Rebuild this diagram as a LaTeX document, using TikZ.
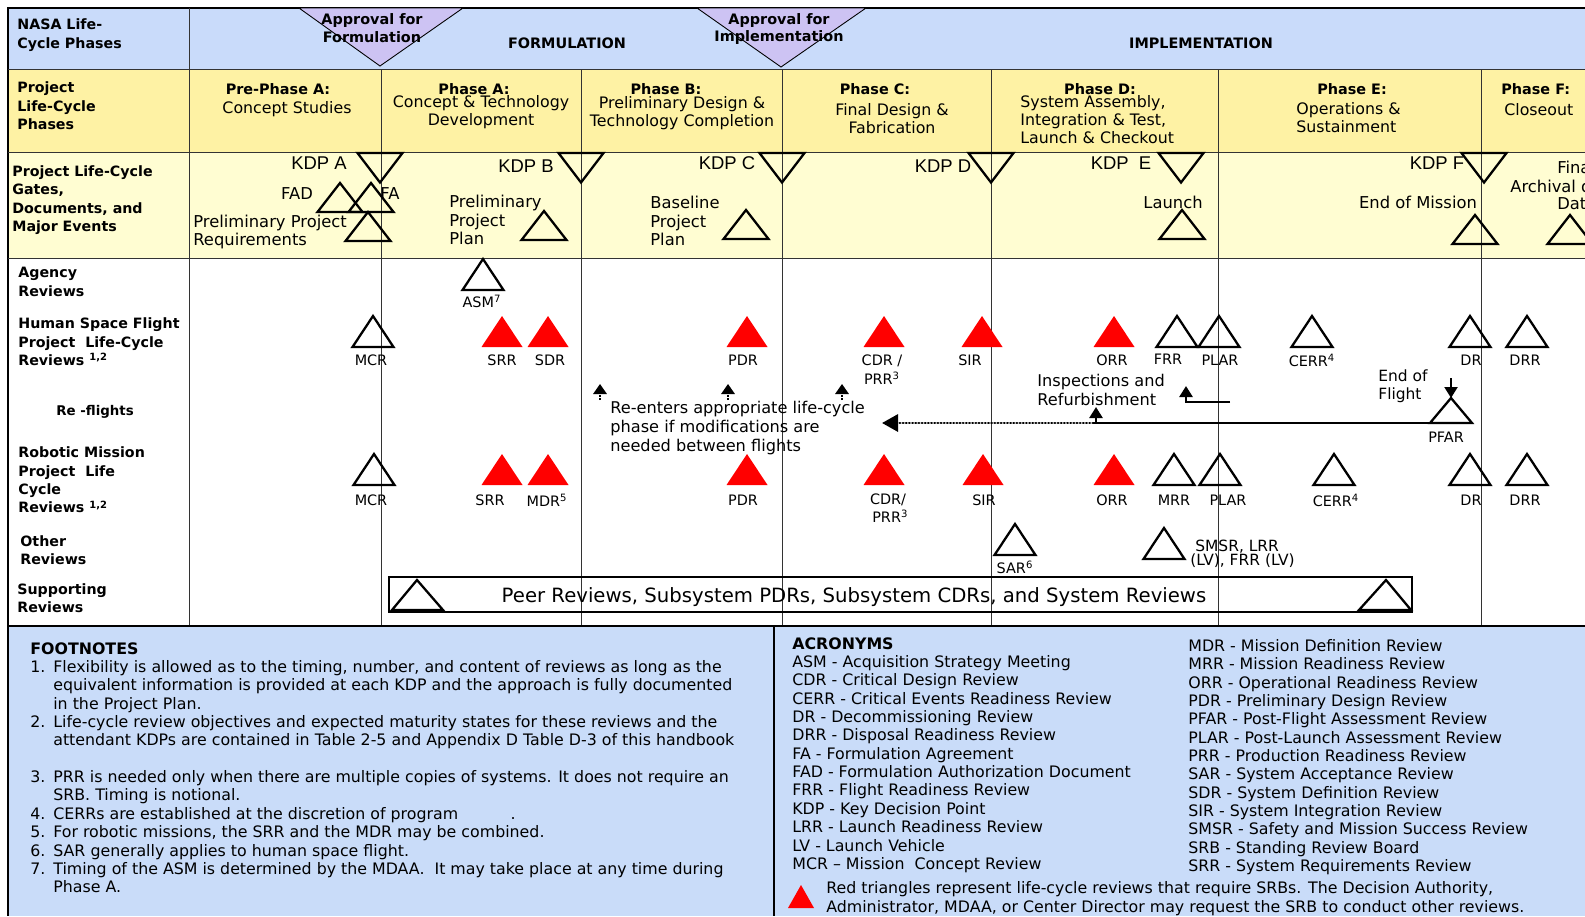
\documentclass[tikz,border=0pt]{standalone}
\usepackage{fontspec}
\setmainfont{DejaVu Sans}
\newfontfamily\kdpfont{Liberation Sans}
\usetikzlibrary{arrows.meta}

\definecolor{bandblue}{HTML}{C9DBFA}
\definecolor{phaseyellow}{HTML}{FEF2A4}
\definecolor{gateyellow}{HTML}{FFFDD2}
\definecolor{approval}{HTML}{CDC3F3}
\definecolor{noteblue}{HTML}{C9DCF9}

\newcommand{\revtri}[3][]{\draw[tri,#1] (#2,#3) -- ++(20.5,31) -- ++(-41,0) -- cycle;}
\newcommand{\doctri}[2]{\draw[tri] (#1,#2) -- ++(22.5,29) -- ++(-45,0) -- cycle;}
\newcommand{\kdptri}[2]{\draw[tri] (#1-22.5,#2) -- ++(45,0) -- ++(-22.5,29.5) -- cycle;}
\newcommand{\fnum}[1]{\makebox[0.46cm][l]{#1}}
\newcommand{\fcont}{\hspace*{0.46cm}}

\begin{document}
\begin{tikzpicture}[
 x=0.02cm, y=-0.02cm,
 inner sep=0pt,
 rowlabel/.style={font=\fontsize{8.1}{10.5}\selectfont\bfseries,align=left,anchor=west},
 phasehead/.style={font=\fontsize{8.2}{10.2}\selectfont\bfseries,align=center},
 phasetext/.style={font=\fontsize{9}{10.2}\selectfont,align=center},
 gatetext/.style={font=\fontsize{9.3}{10.4}\selectfont,align=left},
 kdp/.style={font=\kdpfont\fontsize{10.5}{12}\selectfont},
 revlabel/.style={font=\fontsize{8.2}{10.6}\selectfont,align=center},
 tri/.style={draw=black,line width=1.3pt,line join=miter},
 redtri/.style={fill=red,draw=none},
 divider/.style={draw=black!80,line width=0.5pt},
 reenter/.style={densely dotted,line width=0.9pt,-{Triangle[length=0.2cm,width=0.27cm]}},
 flight/.style={line width=1.7pt},
 flighttip/.style={-{Triangle[length=0.22cm,width=0.26cm]}},
 note/.style={font=\fontsize{9}{10.45}\selectfont,align=left,anchor=north west}
]
\useasboundingbox (0,0) rectangle (1585,916);
\clip (0,0) rectangle (1585,916);

\fill[bandblue] (8,8) rectangle (1585,69);
\fill[phaseyellow] (8,69) rectangle (1585,152);
\fill[gateyellow] (8,152) rectangle (1585,258);
\fill[noteblue] (8,626) rectangle (1585,916);
\draw[line width=0.8pt] (1585,8) -- (8,8) -- (8,916);
\draw[divider] (8,69) -- (1585,69) (8,152) -- (1585,152) (8,258) -- (1585,258);
\draw[divider] (189,8) -- (189,626);
\foreach \x in {381,581,782,991,1218,1481}
  \draw[divider] (\x,69) -- (\x,626);
\draw[line width=1.2pt] (8,626) -- (1585,626);
\draw[line width=0.8pt] (774,626) -- (774,916);

\draw[fill=approval,line width=0.5pt] (299,8) -- (463,8) -- (380,66) -- cycle;
\draw[fill=approval,line width=0.5pt] (697,8) -- (866,8) -- (781,67) -- cycle;
\node (appr-form) [phasehead] at (372,28) {Approval for\\Formulation};
\node (appr-impl) [phasehead] at (779,29) {Approval for\\Implementation};
\node (formulation) [phasehead] at (567,43) {FORMULATION};
\node (implementation) [phasehead] at (1201,43) {IMPLEMENTATION};

\node (lbl-nasa) [rowlabel] at (17,35) {NASA Life-\\Cycle Phases};
\node (lbl-phases) [rowlabel] at (17,106) {Project\\Life-Cycle\\Phases};
\node (lbl-gates) [rowlabel] at (12,200) {Project Life-Cycle\\Gates,\\Documents, and\\Major Events};
\node (lbl-agency) [rowlabel] at (18,282) {Agency\\Reviews};
\node (lbl-hsf) [rowlabel] at (18,342) {Human Space Flight\\Project\ \ Life-Cycle\\Reviews \textsuperscript{1,2}};
\node (lbl-reflights) [rowlabel,font=\fontsize{7.6}{10}\selectfont\bfseries] at (56,412) {Re -flights};
\node (lbl-robotic) [rowlabel] at (18,480) {Robotic Mission\\Project\ \ Life\\Cycle\\Reviews \textsuperscript{1,2}};
\node (lbl-other) [rowlabel] at (20,550) {Other\\Reviews};
\node (lbl-support) [rowlabel] at (17,598) {Supporting\\Reviews};

\node (pre-a-head) [phasehead] at (278,89) {Pre-Phase A:};
\node (pre-a-text) [phasetext] at (287,109) {Concept Studies};
\node (a-head) [phasehead] at (474,89) {Phase A:};
\node (a-text) [phasetext] at (481,112.5) {Concept \& Technology\\Development};
\node (b-head) [phasehead] at (666,89) {Phase B:};
\node (b-text) [phasetext] at (682,113.5) {Preliminary Design \&\\Technology Completion};
\node (c-head) [phasehead] at (875,89) {Phase C:};
\node (c-text) [phasetext] at (892,119) {Final Design \&\\Fabrication};
\node (d-head) [phasehead] at (1100,89) {Phase D:};
\node (d-text) [phasetext,align=left,anchor=west] at (1020,120) {System Assembly,\\Integration \& Test,\\Launch \& Checkout};
\node (e-head) [phasehead] at (1352,89) {Phase E:};
\node (e-text) [phasetext,align=left,anchor=west] at (1296,118) {Operations \&\\Sustainment};
\node (f-head) [phasehead,anchor=west] at (1501,89) {Phase F:};
\node (f-text) [phasetext,anchor=west] at (1504,110) {Closeout};

\node (kdp-a) [kdp] at (319,163) {KDP A};
\node (fad) [gatetext] at (297,194) {FAD};
\node (fa) [gatetext,anchor=west] at (380,194) {FA};
\node (ppr) [gatetext,anchor=west] at (193,232) {Preliminary Project\\Requirements};
\kdptri{380}{153}
\doctri{340}{183}
\doctri{371}{183}
\doctri{368}{212}
\node (kdp-b) [kdp] at (526,166) {KDP B};
\node (ppp) [gatetext,anchor=west] at (449,220) {Preliminary\\Project\\Plan};
\kdptri{581}{153}
\doctri{544}{211}
\node (kdp-c) [kdp] at (727,163) {KDP C};
\node (bpp) [gatetext,anchor=west] at (650,221) {Baseline\\Project\\Plan};
\kdptri{782}{153}
\doctri{746}{210}
\node (kdp-d) [kdp] at (943,166) {KDP D};
\kdptri{991}{153}
\node (kdp-e) [kdp] at (1121,163) {KDP\ \ E};
\node (launch) [gatetext] at (1173,202) {Launch};
\kdptri{1181}{153}
\doctri{1182}{210}
\node (kdp-f) [kdp] at (1437,163) {KDP F};
\node (eom) [gatetext] at (1418,202) {End of Mission};
\kdptri{1484}{153}
\doctri{1475}{215}
\node (final) [gatetext,anchor=west] at (1557,167) {Final};
\node (archival) [gatetext,anchor=west] at (1510,186) {Archival of};
\node (data) [gatetext,anchor=west] at (1557,204) {Data};
\doctri{1570}{215}

\revtri{483}{259}
\node (asm) [revlabel] at (482,301) {ASM\textsuperscript{7}};

\revtri{373}{316}
\revtri[redtri]{502}{316}
\revtri[redtri]{548}{316}
\revtri[redtri]{747}{316}
\revtri[redtri]{884}{316}
\revtri[redtri]{982}{316}
\revtri[redtri]{1114}{316}
\revtri{1177}{316}
\revtri{1219}{316}
\revtri{1312}{316}
\revtri{1470}{316}
\revtri{1527}{316}
\node (hsf-mcr) [revlabel] at (371,360) {MCR};
\node (hsf-srr) [revlabel] at (502,360) {SRR};
\node (hsf-sdr) [revlabel] at (550,360) {SDR};
\node (hsf-pdr) [revlabel] at (743,360) {PDR};
\node (hsf-cdr) [revlabel] at (882,369.5) {CDR /\\PRR\textsuperscript{3}};
\node (hsf-sir) [revlabel] at (970,360) {SIR};
\node (hsf-orr) [revlabel] at (1112,360) {ORR};
\node (hsf-frr) [revlabel] at (1168,359) {FRR};
\node (hsf-plar) [revlabel] at (1220,360) {PLAR};
\node (hsf-cerr) [revlabel] at (1312,360) {CERR\textsuperscript{4}};
\node (hsf-dr) [revlabel] at (1471,360) {DR};
\node (hsf-drr) [revlabel] at (1525,360) {DRR};

\revtri{374}{454}
\revtri[redtri]{502}{454}
\revtri[redtri]{548}{454}
\revtri[redtri]{747}{454}
\revtri[redtri]{884}{454}
\revtri[redtri]{983}{454}
\revtri[redtri]{1114}{454}
\revtri{1174}{454}
\revtri{1220}{454}
\revtri{1334}{454}
\revtri{1470}{454}
\revtri{1527}{454}
\node (rob-mcr) [revlabel] at (371,500) {MCR};
\node (rob-srr) [revlabel] at (490,500) {SRR};
\node (rob-mdr) [revlabel] at (547,500) {MDR\textsuperscript{5}};
\node (rob-pdr) [revlabel] at (743,500) {PDR};
\node (rob-cdr) [revlabel] at (888,508) {CDR/\\\ PRR\textsuperscript{3}};
\node (rob-sir) [revlabel] at (984,500) {SIR};
\node (rob-orr) [revlabel] at (1112,500) {ORR};
\node (rob-mrr) [revlabel] at (1174,500) {MRR};
\node (rob-plar) [revlabel] at (1228,500) {PLAR};
\node (rob-cerr) [revlabel] at (1336,500) {CERR\textsuperscript{4}};
\node (rob-dr) [revlabel] at (1471,500) {DR};
\node (rob-drr) [revlabel] at (1525,500) {DRR};

\revtri{1015}{524}
\node (sar) [revlabel] at (1015,567) {SAR\textsuperscript{6}};
\revtri{1164}{528}
\node (smsr) [revlabel,font=\fontsize{8.8}{8}\selectfont,align=left,anchor=west] at (1190,554) {\ SMSR, LRR\\(LV), FRR (LV)};

\draw[line width=1.6pt] (389,577) rectangle (1412,612);
\draw[tri] (417,580) -- (443,610) -- (392,610) -- cycle;
\draw[tri] (1386,580) -- (1411,610) -- (1359,610) -- cycle;
\node (supporting) [font=\fontsize{11.2}{12}\selectfont] at (854,597) {Peer Reviews, Subsystem PDRs, Subsystem CDRs, and System Reviews};

\foreach \x in {600,728,842}
  \draw[reenter] (\x,400) -- (\x,384);
\node (reenter-text) [font=\fontsize{9.2}{10.8}\selectfont,align=left,anchor=west] at (610,428) {Re-enters appropriate life-cycle\\phase if modifications are\\needed between flights};
\node (inspections) [font=\fontsize{9.2}{10.4}\selectfont,align=left,anchor=west] at (1037,390) {Inspections and\\Refurbishment};
\node (end-flight) [font=\fontsize{8.8}{10.4}\selectfont,align=left,anchor=west] at (1378,386) {End of\\Flight};
\node (pfar) [revlabel] at (1446,437) {PFAR};
\draw[tri] (1451,398) -- (1472,423) -- (1430,423) -- cycle;
\coordinate (pfar-left) at (1430,423);
\coordinate (pfar-top) at (1451,398);
\coordinate (refurb) at (1093,423);
\coordinate (reenter-tip) at (882,423);
\draw[flight] (pfar-left) -- (refurb);
\draw[flight,line cap=round,dash pattern=on 0.2pt off 1.6pt,-{Triangle[length=0.32cm,width=0.34cm]}] (refurb) -- (reenter-tip);
\draw[line width=1.4pt,flighttip] (1096,423) -- (1096,407);
\draw[line width=1.5pt,flighttip] (1230,402) -- (1186,402) -- (1186,386);
\draw[line width=1.2pt,flighttip] (1451,378) -- (pfar-top);

\node (footnotes) [note] at (30,642) {\textbf{FOOTNOTES}\\
\fnum{1.}Flexibility is allowed as to the timing, number, and content of reviews as long as the\\
\fcont equivalent information is provided at each KDP and the approach is fully documented\\
\fcont in the Project Plan.\\
\fnum{2.}Life-cycle review objectives and expected maturity states for these reviews and the\\
\fcont attendant KDPs are contained in Table 2-5 and Appendix D Table D-3 of this handbook\\[10.45pt]
\fnum{3.}PRR is needed only when there are multiple copies of systems. It does not require an\\
\fcont SRB. Timing is notional.\\
\fnum{4.}CERRs are established at the discretion of program\hspace{1.05cm}.\\
\fnum{5.}For robotic missions, the SRR and the MDR may be combined.\\
\fnum{6.}SAR generally applies to human space flight.\\
\fnum{7.}Timing of the ASM is determined by the MDAA.\ \ It may take place at any time during\\
\fcont Phase A.};

\node (acronyms-left) [note] at (792,637) {\textbf{ACRONYMS}\\
ASM - Acquisition Strategy Meeting\\
CDR - Critical Design Review\\
CERR - Critical Events Readiness Review\\
DR - Decommissioning Review\\
DRR - Disposal Readiness Review\\
FA - Formulation Agreement\\
FAD - Formulation Authorization Document\\
FRR - Flight Readiness Review\\
KDP - Key Decision Point\\
LRR - Launch Readiness Review\\
LV - Launch Vehicle\\
MCR -- Mission\ \ Concept Review};
\node (acronyms-right) [note] at (1188,639) {MDR - Mission Definition Review\\
MRR - Mission Readiness Review\\
ORR - Operational Readiness Review\\
PDR - Preliminary Design Review\\
PFAR - Post-Flight Assessment Review\\
PLAR - Post-Launch Assessment Review\\
PRR - Production Readiness Review\\
SAR - System Acceptance Review\\
SDR - System Definition Review\\
SIR - System Integration Review\\
SMSR - Safety and Mission Success Review\\
SRB - Standing Review Board\\
SRR - System Requirements Review};

\fill[red] (788,908) -- (814,908) -- (801,885) -- cycle;
\node (legend) [font=\fontsize{9}{10.8}\selectfont,align=left,anchor=west] at (826,898.5) {Red triangles represent life-cycle reviews that require SRBs. The Decision Authority,\\Administrator, MDAA, or Center Director may request the SRB to conduct other reviews.};
\end{tikzpicture}
\end{document}
